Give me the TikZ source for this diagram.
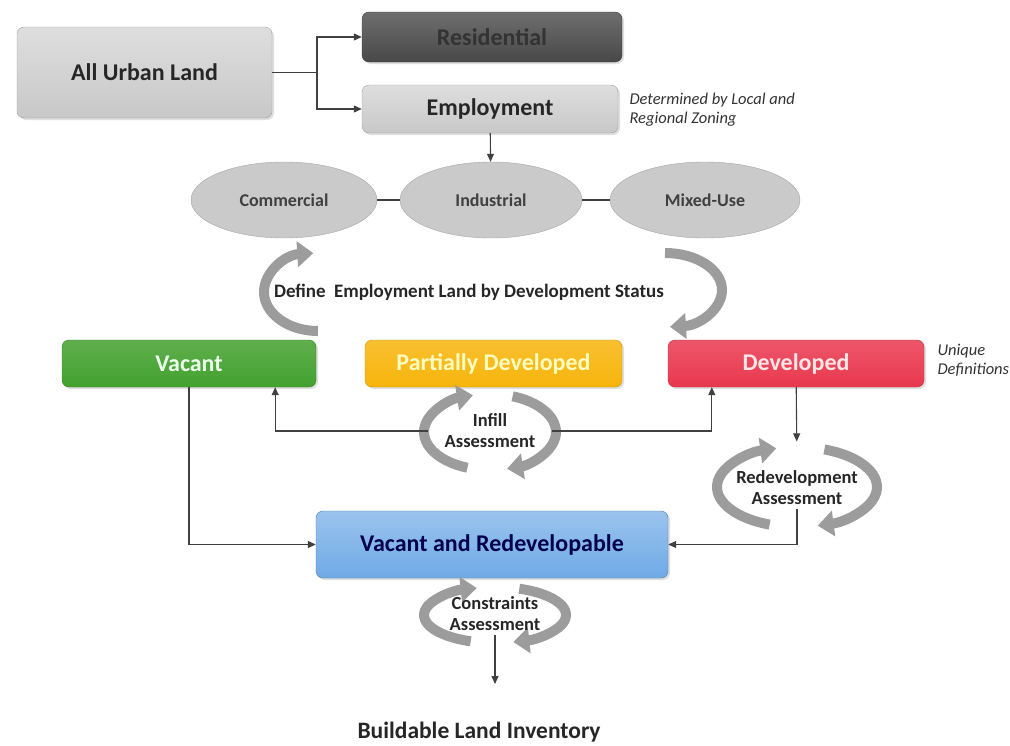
\documentclass[tikz,border=0pt]{standalone}
\usepackage{fontspec}
\setmainfont{Carlito}
\usepackage{tikz}
\usetikzlibrary{arrows.meta,shapes.geometric,shadows}

\definecolor{lightbox}{HTML}{C8C8C8}
\definecolor{darkbox}{HTML}{555555}
\definecolor{ellgray}{HTML}{CACACA}
\definecolor{arcgray}{HTML}{9C9C9C}
\definecolor{vacgreen}{HTML}{43A12E}
\definecolor{partorange}{HTML}{F7B50C}
\definecolor{devred}{HTML}{E9384F}
\definecolor{vrblue}{HTML}{6FAAE6}

\tikzset{
  landbox/.style={rectangle,rounded corners=7pt,inner sep=2pt,
    font=\fontsize{24}{27}\selectfont\bfseries,
    drop shadow={opacity=0.25,shadow xshift=2pt,shadow yshift=-2pt}},
  zone/.style={ellipse,draw=gray!70,fill=ellgray,minimum width=186pt,
    minimum height=76pt,inner sep=0pt,
    font=\fontsize{18}{21}\selectfont\bfseries,text=black!75},
  link/.style={draw=black!75,line width=1.1pt},
  arr/.style={link,-{Triangle[length=8pt,width=7pt]}},
  cycarrow/.style={line width=10pt,draw=arcgray,
    -{Triangle[length=16pt,width=25pt]}},
  steptext/.style={align=center,font=\fontsize{18.5}{21}\selectfont\bfseries,
    text=black!85},
  sidenote/.style={align=left,anchor=west,
    font=\fontsize{16.5}{19}\selectfont\itshape,text=black!80}
}

\newcommand{\cyclearrows}[3]{%
  \draw[cycarrow] (#1) ++(250:#2 and #3)
    arc[start angle=250,end angle=105,x radius=#2,y radius=#3];
  \draw[cycarrow] (#1) ++(70:#2 and #3)
    arc[start angle=70,end angle=-75,x radius=#2,y radius=#3];}

\begin{document}
\begin{tikzpicture}[x=1pt,y=1pt]
\useasboundingbox (0,0) rectangle (1010,-745);

\node[landbox,draw=lightbox!80!black,top color=lightbox!60!white,bottom color=lightbox,
  minimum width=255pt,minimum height=91pt,text=black!85] (urban) at (144.5,-72.5) {All Urban Land};
\node[landbox,draw=darkbox!70!black,top color=darkbox!85!white,bottom color=darkbox!85!black,
  minimum width=260pt,minimum height=50pt,text=black!80] (res) at (492,-37) {Residential};
\node[landbox,draw=lightbox!80!black,top color=lightbox!60!white,bottom color=lightbox,
  minimum width=256pt,minimum height=48pt,text=black!85] (emp) at (490,-109) {Employment};
\coordinate (split) at (317,-72.5);
\draw[link] (urban) -- (split);
\draw[arr] (split) |- (res);
\draw[arr] (split) |- (emp);
\node[sidenote] (zoning) at (626,-110) {Determined by Local and\\Regional Zoning};

\node[zone] (com) at (284,-200) {Commercial};
\node[zone,minimum width=182pt] (ind) at (491,-200) {Industrial};
\node[zone,minimum width=190pt] (mix) at (705,-200) {Mixed-Use};
\draw[arr] (emp) -- (ind);
\draw[link] (com) -- (ind);
\draw[link] (ind) -- (mix);

\draw[cycarrow] (318,-292) ++(270:54 and 39) arc[start angle=270,end angle=95,x radius=54,y radius=39];
\draw[cycarrow] (665,-290) ++(90:57 and 37) arc[start angle=90,end angle=-85,x radius=57,y radius=37];
\node[steptext,font=\fontsize{19}{22}\selectfont\bfseries] (define) at (469,-292)
  {Define\hspace{4pt} Employment Land by Development Status};

\node[landbox,draw=vacgreen!80!black,top color=vacgreen!85!white,bottom color=vacgreen,
  minimum width=254pt,minimum height=47pt,text=green!8!white] (vac) at (189,-363.5) {Vacant};
\node[landbox,draw=partorange!80!black,top color=partorange!85!white,bottom color=partorange,
  minimum width=257pt,minimum height=47pt,text=yellow!25!white] (part) at (493.5,-363.5) {Partially Developed};
\node[landbox,draw=devred!80!black,top color=devred!85!white,bottom color=devred,
  minimum width=256pt,minimum height=47pt,text=red!10!white] (dev) at (796,-363.5) {Developed};
\node[sidenote] (unique) at (934,-360) {Unique\\Definitions};

\cyclearrows{490,-432}{66}{38}
\node[steptext,minimum width=124pt] (infill) at (490,-431) {Infill\\Assessment};
\draw[arr] (infill.west) -| ([xshift=-41pt]vac.south east);
\draw[arr] (infill.east) -| ([xshift=44pt]dev.south west);

\cyclearrows{797,-487}{80}{40}
\node[steptext] (redev) at (797,-488) {Redevelopment\\Assessment};
\draw[arr,shorten >=26pt] (dev) -- (redev.north);

\node[landbox,draw=vrblue!70!black,top color=vrblue!70!white,bottom color=vrblue,
  minimum width=352pt,minimum height=67pt,text=blue!30!black] (vr) at (492,-544.5) {Vacant and Redevelopable};
\draw[arr] (vac) |- (vr);
\draw[arr] (redev) |- (vr);

\cyclearrows{495,-615}{71}{28}
\node[steptext] (cons) at (495,-614) {Constraints\\Assessment};
\node[font=\fontsize{23.5}{26}\selectfont\bfseries,text=black!85] (build) at (479,-732) {Buildable Land Inventory};
\draw[arr] (cons) -- (cons.south |- 0,-684);
\end{tikzpicture}
\end{document}
